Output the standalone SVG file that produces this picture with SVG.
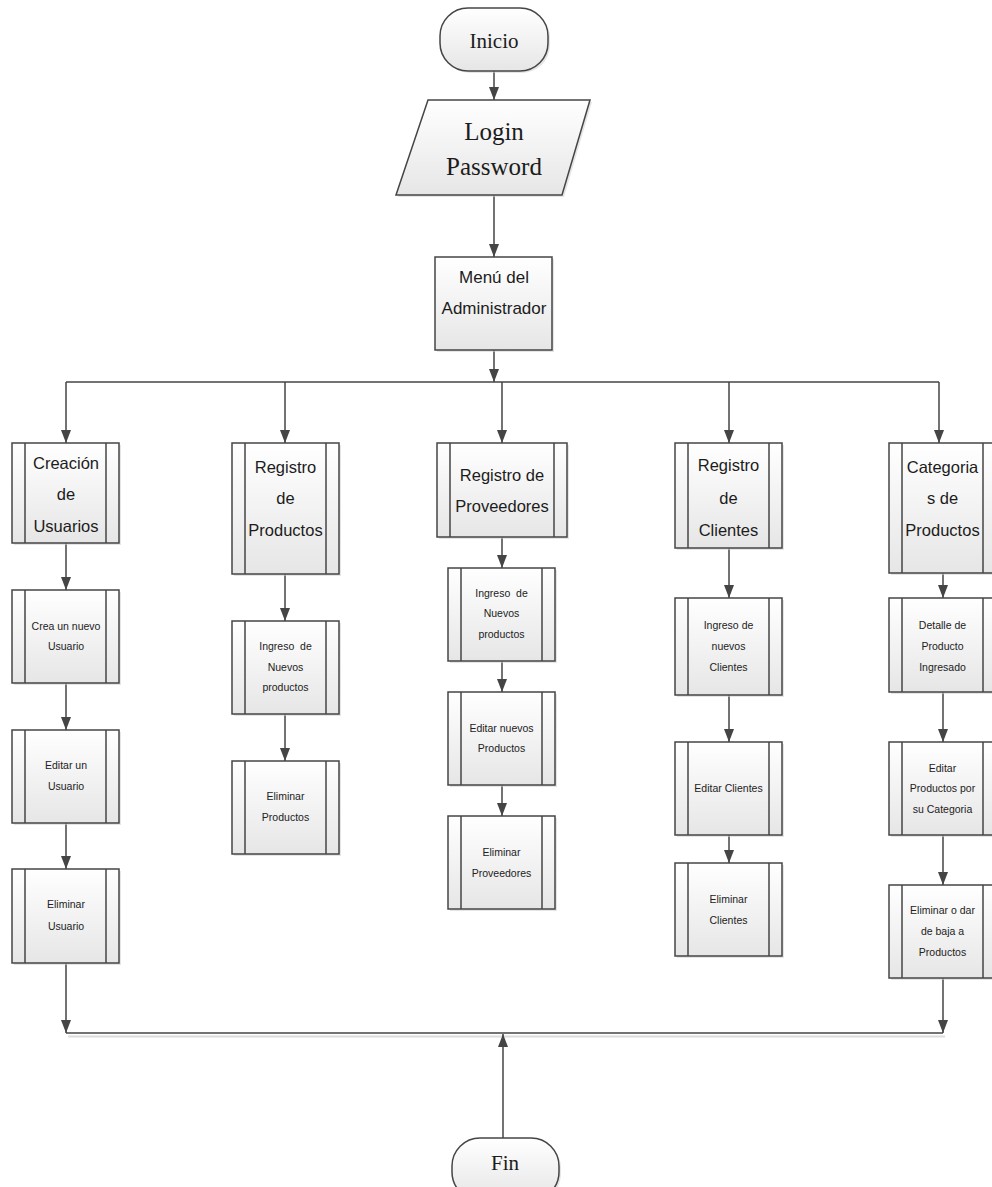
<svg xmlns="http://www.w3.org/2000/svg" width="992" height="1187" viewBox="0 0 992 1187">
<style>
.box{fill:url(#g);stroke:#454545;stroke-width:1.5}
.sh{fill:#cfcfcf;opacity:0.55}
.in{stroke:#454545;stroke-width:1.5}
.c{fill:none;stroke:#454545;stroke-width:1.5}
.t1{font-family:"Liberation Sans",Arial,sans-serif;font-size:16.5px;text-anchor:middle;fill:#1c1c1c}
.t2{font-family:"Liberation Sans",Arial,sans-serif;font-size:10.5px;text-anchor:middle;fill:#222}
.t3{font-family:"Liberation Sans",Arial,sans-serif;font-size:17px;text-anchor:middle;fill:#1c1c1c}
.ts{font-family:"Liberation Serif","Times New Roman",serif;text-anchor:middle;fill:#1c1c1c}
</style>
<defs>
<linearGradient id="g" x1="0" y1="0" x2="0" y2="1">
<stop offset="0" stop-color="#ffffff"/>
<stop offset="1" stop-color="#e6e6e6"/>
</linearGradient>
<marker id="ah" viewBox="0 0 13 10" refX="13" refY="5" markerWidth="13" markerHeight="10" markerUnits="userSpaceOnUse" orient="auto">
<path d="M0,0 L13,5 L0,10 z" fill="#454545"/>
</marker>
</defs>
<rect width="992" height="1187" fill="#ffffff"/>

<g id="connectors">
<path class="c" d="M494,71 V100" marker-end="url(#ah)"/>
<path class="c" d="M494,195 V257" marker-end="url(#ah)"/>
<path class="c" d="M494,350 V382" marker-end="url(#ah)"/>
<path class="c" d="M66,382 H939"/>
<path class="c" d="M66,382 V443" marker-end="url(#ah)"/>
<path class="c" d="M285,382 V443" marker-end="url(#ah)"/>
<path class="c" d="M502,382 V443" marker-end="url(#ah)"/>
<path class="c" d="M729,382 V443" marker-end="url(#ah)"/>
<path class="c" d="M939,382 V443" marker-end="url(#ah)"/>
<path class="c" d="M66,543 V590" marker-end="url(#ah)"/>
<path class="c" d="M66,683 V730" marker-end="url(#ah)"/>
<path class="c" d="M66,823 V869" marker-end="url(#ah)"/>
<path class="c" d="M66,963 V1033" marker-end="url(#ah)"/>
<path class="c" d="M285,574 V621" marker-end="url(#ah)"/>
<path class="c" d="M285,714 V761" marker-end="url(#ah)"/>
<path class="c" d="M502,537 V568" marker-end="url(#ah)"/>
<path class="c" d="M502,661 V692" marker-end="url(#ah)"/>
<path class="c" d="M502,785 V816" marker-end="url(#ah)"/>
<path class="c" d="M729,548 V598" marker-end="url(#ah)"/>
<path class="c" d="M729,695 V742" marker-end="url(#ah)"/>
<path class="c" d="M729,835 V863" marker-end="url(#ah)"/>
<path class="c" d="M943,573 V598" marker-end="url(#ah)"/>
<path class="c" d="M943,692 V742" marker-end="url(#ah)"/>
<path class="c" d="M943,835 V885" marker-end="url(#ah)"/>
<path class="c" d="M943,978 V1033" marker-end="url(#ah)"/>
<path d="M68,1036.5 H945" stroke="#dcdcdc" stroke-width="2" fill="none"/>
<path class="c" d="M66,1033 H943"/>
<path class="c" d="M503,1138 V1034" marker-end="url(#ah)"/>
</g>

<g id="inicio">
<rect class="sh" x="442" y="10" width="108" height="63" rx="28"/>
<rect class="box" x="440" y="8" width="108" height="63" rx="28"/>
<text class="ts" x="494" y="48" font-size="21">Inicio</text>
</g>

<g id="login">
<polygon class="sh" points="430,102 592,102 564,197 398,197"/>
<polygon class="box" points="428,100 590,100 562,195 396,195"/>
<text class="ts" x="494" y="140" font-size="25">Login</text>
<text class="ts" x="494" y="175" font-size="25">Password</text>
</g>

<g id="menu">
<rect class="sh" x="437" y="259" width="117" height="93"/>
<rect class="box" x="435" y="257" width="117" height="93"/>
<text class="t3" x="494" y="283">Menú del</text>
<text class="t3" x="494" y="314">Administrador</text>
</g>

<g id="creacion">
<rect class="sh" x="14" y="445" width="107" height="100"/>
<rect class="box" x="12" y="443" width="107" height="100"/>
<path class="in" d="M25,443 V543 M106,443 V543"/>
<text class="t1" x="66" y="469">Creación</text>
<text class="t1" x="66" y="500">de</text>
<text class="t1" x="66" y="532">Usuarios</text>
</g>
<g id="crea_usuario">
<rect class="sh" x="14" y="592" width="107" height="93"/>
<rect class="box" x="12" y="590" width="107" height="93"/>
<path class="in" d="M25,590 V683 M106,590 V683"/>
<text class="t2" x="66" y="630">Crea un nuevo</text>
<text class="t2" x="66" y="650">Usuario</text>
</g>
<g id="editar_usuario">
<rect class="sh" x="14" y="732" width="107" height="93"/>
<rect class="box" x="12" y="730" width="107" height="93"/>
<path class="in" d="M25,730 V823 M106,730 V823"/>
<text class="t2" x="66" y="769">Editar un</text>
<text class="t2" x="66" y="790">Usuario</text>
</g>
<g id="eliminar_usuario">
<rect class="sh" x="14" y="871" width="107" height="94"/>
<rect class="box" x="12" y="869" width="107" height="94"/>
<path class="in" d="M25,869 V963 M106,869 V963"/>
<text class="t2" x="66" y="908">Eliminar</text>
<text class="t2" x="66" y="930">Usuario</text>
</g>

<g id="registro_productos">
<rect class="sh" x="234" y="445" width="107" height="131"/>
<rect class="box" x="232" y="443" width="107" height="131"/>
<path class="in" d="M245,443 V574 M326,443 V574"/>
<text class="t1" x="285.5" y="473">Registro</text>
<text class="t1" x="285.5" y="504">de</text>
<text class="t1" x="285.5" y="536">Productos</text>
</g>
<g id="ingreso_productos">
<rect class="sh" x="234" y="623" width="107" height="93"/>
<rect class="box" x="232" y="621" width="107" height="93"/>
<path class="in" d="M245,621 V714 M326,621 V714"/>
<text class="t2" x="285.5" y="650" xml:space="preserve">Ingreso  de</text>
<text class="t2" x="285.5" y="671">Nuevos</text>
<text class="t2" x="285.5" y="691">productos</text>
</g>
<g id="eliminar_productos">
<rect class="sh" x="234" y="763" width="107" height="93"/>
<rect class="box" x="232" y="761" width="107" height="93"/>
<path class="in" d="M245,761 V854 M326,761 V854"/>
<text class="t2" x="285.5" y="800">Eliminar</text>
<text class="t2" x="285.5" y="821">Productos</text>
</g>

<g id="registro_proveedores">
<rect class="sh" x="439" y="445" width="130" height="94"/>
<rect class="box" x="437" y="443" width="130" height="94"/>
<path class="in" d="M450,443 V537 M554,443 V537"/>
<text class="t1" x="502" y="481">Registro de</text>
<text class="t1" x="502" y="512">Proveedores</text>
</g>
<g id="ingreso_proveedores">
<rect class="sh" x="450" y="570" width="107" height="93"/>
<rect class="box" x="448" y="568" width="107" height="93"/>
<path class="in" d="M461,568 V661 M542,568 V661"/>
<text class="t2" x="501.5" y="597" xml:space="preserve">Ingreso  de</text>
<text class="t2" x="501.5" y="617">Nuevos</text>
<text class="t2" x="501.5" y="638">productos</text>
</g>
<g id="editar_proveedores">
<rect class="sh" x="450" y="694" width="107" height="93"/>
<rect class="box" x="448" y="692" width="107" height="93"/>
<path class="in" d="M461,692 V785 M542,692 V785"/>
<text class="t2" x="501.5" y="732">Editar nuevos</text>
<text class="t2" x="501.5" y="752">Productos</text>
</g>
<g id="eliminar_proveedores">
<rect class="sh" x="450" y="818" width="107" height="93"/>
<rect class="box" x="448" y="816" width="107" height="93"/>
<path class="in" d="M461,816 V909 M542,816 V909"/>
<text class="t2" x="501.5" y="856">Eliminar</text>
<text class="t2" x="501.5" y="877">Proveedores</text>
</g>

<g id="registro_clientes">
<rect class="sh" x="677" y="445" width="107" height="105"/>
<rect class="box" x="675" y="443" width="107" height="105"/>
<path class="in" d="M688,443 V548 M769,443 V548"/>
<text class="t1" x="728.5" y="471">Registro</text>
<text class="t1" x="728.5" y="504">de</text>
<text class="t1" x="728.5" y="536">Clientes</text>
</g>
<g id="ingreso_clientes">
<rect class="sh" x="677" y="600" width="107" height="97"/>
<rect class="box" x="675" y="598" width="107" height="97"/>
<path class="in" d="M688,598 V695 M769,598 V695"/>
<text class="t2" x="728.5" y="629">Ingreso de</text>
<text class="t2" x="728.5" y="650">nuevos</text>
<text class="t2" x="728.5" y="671">Clientes</text>
</g>
<g id="editar_clientes">
<rect class="sh" x="677" y="744" width="107" height="93"/>
<rect class="box" x="675" y="742" width="107" height="93"/>
<path class="in" d="M688,742 V835 M769,742 V835"/>
<text class="t2" x="728.5" y="792">Editar Clientes</text>
</g>
<g id="eliminar_clientes">
<rect class="sh" x="677" y="865" width="107" height="93"/>
<rect class="box" x="675" y="863" width="107" height="93"/>
<path class="in" d="M688,863 V956 M769,863 V956"/>
<text class="t2" x="728.5" y="903">Eliminar</text>
<text class="t2" x="728.5" y="924">Clientes</text>
</g>

<g id="categorias_productos">
<rect class="sh" x="891" y="445" width="107" height="130"/>
<rect class="box" x="889" y="443" width="107" height="130"/>
<path class="in" d="M902,443 V573 M983,443 V573"/>
<text class="t1" x="942.5" y="473">Categoria</text>
<text class="t1" x="942.5" y="504">s de</text>
<text class="t1" x="942.5" y="536">Productos</text>
</g>
<g id="detalle_producto">
<rect class="sh" x="891" y="600" width="107" height="94"/>
<rect class="box" x="889" y="598" width="107" height="94"/>
<path class="in" d="M902,598 V692 M983,598 V692"/>
<text class="t2" x="942.5" y="629">Detalle de</text>
<text class="t2" x="942.5" y="650">Producto</text>
<text class="t2" x="942.5" y="671">Ingresado</text>
</g>
<g id="editar_categoria">
<rect class="sh" x="891" y="744" width="107" height="93"/>
<rect class="box" x="889" y="742" width="107" height="93"/>
<path class="in" d="M902,742 V835 M983,742 V835"/>
<text class="t2" x="942.5" y="772">Editar</text>
<text class="t2" x="942.5" y="792">Productos por</text>
<text class="t2" x="942.5" y="813">su Categoria</text>
</g>
<g id="eliminar_categoria">
<rect class="sh" x="891" y="887" width="107" height="93"/>
<rect class="box" x="889" y="885" width="107" height="93"/>
<path class="in" d="M902,885 V978 M983,885 V978"/>
<text class="t2" x="942.5" y="914">Eliminar o dar</text>
<text class="t2" x="942.5" y="935">de baja a</text>
<text class="t2" x="942.5" y="956">Productos</text>
</g>

<g id="fin">
<rect class="sh" x="454" y="1140" width="107" height="62" rx="28"/>
<rect class="box" x="452" y="1138" width="107" height="62" rx="28"/>
<text class="ts" x="505" y="1170" font-size="21">Fin</text>
</g>
</svg>
